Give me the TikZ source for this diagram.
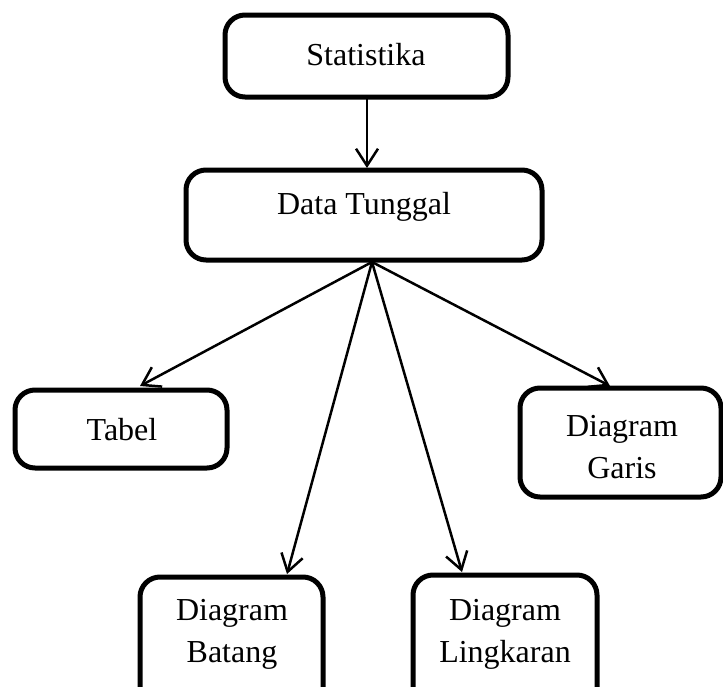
\documentclass[tikz,border=0pt]{standalone}
\usepackage{fontspec}
\setmainfont{Liberation Serif}
\usetikzlibrary{arrows.meta}
\begin{document}
\begin{tikzpicture}[x=1pt,y=-1pt,
  box/.style={draw, line width=5pt, rounded corners=20pt},
  lbl/.style={font=\fontsize{32}{42}\selectfont, align=center, inner sep=0pt},
  conn/.style={line width=2.5pt, -{Straight Barb[length=17pt,width=22pt,line width=2.5pt]}}]
\useasboundingbox (0,0) rectangle (723,686);
\clip (0,0) rectangle (723,686);
% boxes
\draw[box] (225,15) rectangle (508,97);
\draw[box] (186,170) rectangle (542,260);
\draw[box] (15,390) rectangle (227,468);
\draw[box] (520,388) rectangle (721,497);
\draw[box] (140,577) rectangle (323,730);
\draw[box] (413,575) rectangle (597,730);
% texts
\node[lbl] (stat) at (366,55) {Statistika};
\node[lbl] (data) at (364,207) {Data Tunggal};
\node[lbl] (tabel) at (122,430) {Tabel};
\node[lbl] (garis) at (622,447) {Diagram\\Garis};
\node[lbl] (batang) at (232,634) {Diagram\\Batang};
\node[lbl] (lingk) at (505,634) {Diagram\\Lingkaran};
% connector points
\coordinate (statb) at (367,97);
\coordinate (datat) at (367,168);
\coordinate (fan) at (372,262);
\coordinate (tt) at (140,386);
\coordinate (bt) at (287,574);
\coordinate (lt) at (462,572);
\coordinate (gt) at (610,386);
\draw[conn] (statb) -- (datat);
\draw[conn] (fan) -- (tt);
\draw[conn] (fan) -- (bt);
\draw[conn] (fan) -- (lt);
\draw[conn] (fan) -- (gt);
\end{tikzpicture}
\end{document}
